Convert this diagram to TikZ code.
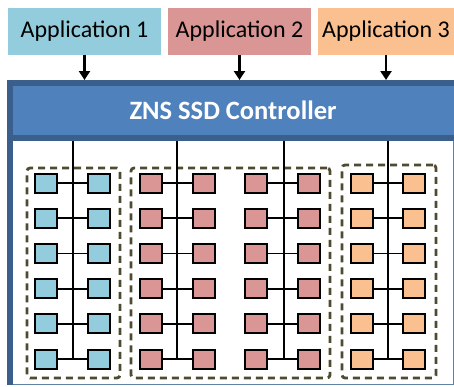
\documentclass[tikz,border=0pt]{standalone}
\usepackage{fontspec}
\setmainfont{Carlito}
\usetikzlibrary{arrows.meta}
\definecolor{cblue}{HTML}{93CDDD}
\definecolor{cred}{HTML}{D99694}
\definecolor{corange}{HTML}{FAC090}
\definecolor{hdr}{HTML}{4F81BD}
\definecolor{hdrdark}{HTML}{3B5F8D}
\definecolor{dashc}{HTML}{4F4A30}
\tikzset{
  app/.style={minimum height=47pt, inner sep=0pt, font=\fontsize{24}{26}\selectfont, text=black},
  arr/.style={line width=2.8pt, -{Triangle[length=9pt,width=11pt]}},
  cell/.style={draw=black, line width=2pt, minimum width=22pt, minimum height=19pt, inner sep=0pt},
  bus/.style={line width=1.5pt, black},
  link/.style={line width=1.8pt, black},
  grp/.style={draw=dashc, line width=2.8pt, dash pattern=on 7pt off 5pt, rounded corners=3pt}
}
\begin{document}
\begin{tikzpicture}[x=1pt,y=-1pt]
\useasboundingbox (0,0) rectangle (454,386);
\fill[white] (0,0) rectangle (454,386);
% applications
\node[app, fill=cblue, minimum width=153pt] (a1) at (84.5,31.5) {Application 1};
\node[app, fill=cred, minimum width=143pt] (a2) at (239.5,31.5) {Application 2};
\node[app, fill=corange, minimum width=136pt] (a3) at (386,31.5) {Application 3};
% body
\draw[draw=hdrdark!80, line width=1pt, fill=white] (7,80) rectangle (453,384);
\fill[hdrdark] (7,141) rectangle (13,384.5);
\fill[hdrdark] (7,80) rectangle (460,141);
\fill[hdr] (13,86) rectangle (460,135);
\node[text=white, font=\fontsize{26.5}{28}\selectfont\bfseries] (ctrl) at (233,110.5) {ZNS SSD Controller};
\coordinate (ctop) at (233,80);
\coordinate (cbot) at (233,141);
% arrows
\foreach \a in {a1,a2,a3}
  \draw[arr] (\a.south) -- (\a.south |- ctop);
% groups
\node[grp, minimum width=93pt, minimum height=210pt] (g1) at (73.5,273) {};
\node[grp, minimum width=199pt, minimum height=210pt] (g2) at (230.5,273) {};
\node[grp, minimum width=94pt, minimum height=213pt] (g3) at (389,271.5) {};
% columns: name / left x / right x / bus x / colour
\foreach \n/\lx/\rx/\bx/\c in {p/46/98.5/73/cblue, q/151/204/177/cred, r/256/309/284/cred, s/361.5/414/388/corange}{
  \coordinate (\n-top) at (\bx,141);
  \foreach \k in {1,...,6}{
    \node[cell, fill=\c] (\n-\k-L) at (\lx,{183+35.2*(\k-1)}) {};
    \node[cell, fill=\c] (\n-\k-R) at (\rx,{183+35.2*(\k-1)}) {};
    \draw[link] (\n-\k-L.east) -- (\n-\k-R.west);
  }
  \draw[bus] (\n-top) -- (\n-top |- \n-6-L);
}
\end{tikzpicture}
\end{document}
